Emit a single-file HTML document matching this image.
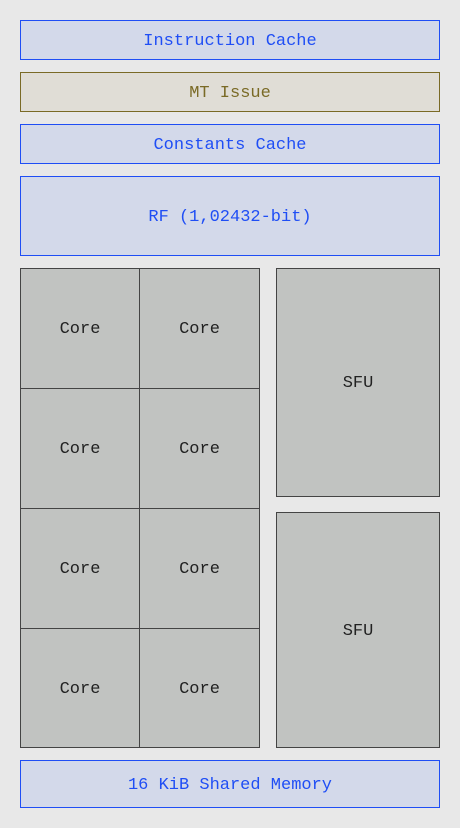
<!DOCTYPE html>
<html><head><style>
body{margin:0;width:460px;height:828px;background:#e8e8e8;position:relative;font-family:"Liberation Mono",monospace;font-size:17px;}
.b{position:absolute;box-sizing:border-box;display:flex;align-items:center;justify-content:center;padding-top:2px;}
.blue{background:#d3d9ea;border:1px solid #1f4ef5;color:#1f4ef5;}
.olive{background:#e0ddd6;border:1px solid #7a6a26;color:#7a6a26;}
.g{background:#c1c3c1;border:1px solid #444;color:#222;}
</style></head><body>
<div class="b blue" style="left:20px;top:20px;width:420px;height:40px">Instruction Cache</div>
<div class="b olive" style="left:20px;top:72px;width:420px;height:40px">MT Issue</div>
<div class="b blue" style="left:20px;top:124px;width:420px;height:40px">Constants Cache</div>
<div class="b blue" style="left:20px;top:176px;width:420px;height:80px">RF (1,02432-bit)</div>
<div class="b g" style="left:20px;top:268px;width:120px;height:121px">Core</div>
<div class="b g" style="left:139px;top:268px;width:121px;height:121px">Core</div>
<div class="b g" style="left:20px;top:388px;width:120px;height:121px">Core</div>
<div class="b g" style="left:139px;top:388px;width:121px;height:121px">Core</div>
<div class="b g" style="left:20px;top:508px;width:120px;height:121px">Core</div>
<div class="b g" style="left:139px;top:508px;width:121px;height:121px">Core</div>
<div class="b g" style="left:20px;top:628px;width:120px;height:120px">Core</div>
<div class="b g" style="left:139px;top:628px;width:121px;height:120px">Core</div>
<div class="b g" style="left:276px;top:268px;width:164px;height:229px">SFU</div>
<div class="b g" style="left:276px;top:512px;width:164px;height:236px">SFU</div>
<div class="b blue" style="left:20px;top:760px;width:420px;height:48px">16 KiB Shared Memory</div>
</body></html>
